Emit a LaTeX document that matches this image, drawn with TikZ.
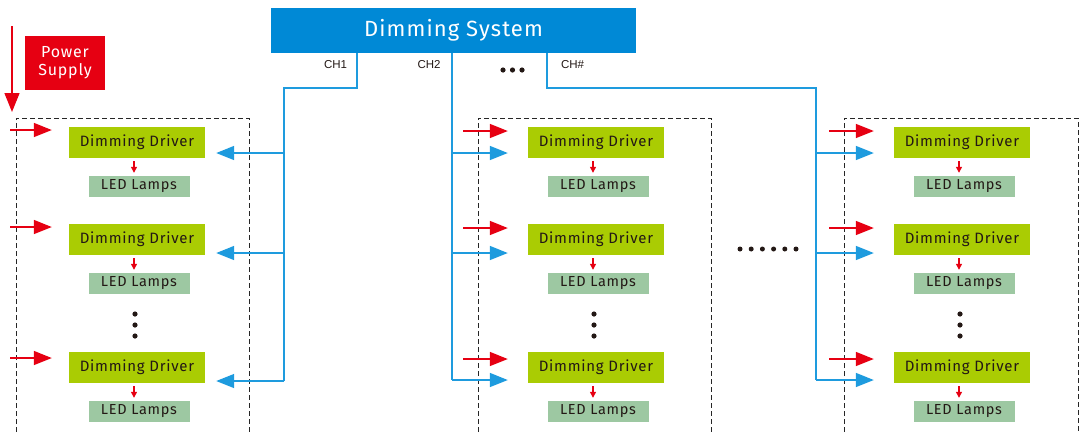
\documentclass[tikz,border=0pt]{standalone}
\usepackage{fontspec}
\setmainfont[LetterSpace=5]{Fira Sans}
\newfontfamily\chfont{Liberation Sans}
\usetikzlibrary{arrows.meta}
\definecolor{sysblue}{HTML}{0089D6}
\definecolor{lineblue}{HTML}{1E9BDE}
\definecolor{pwred}{HTML}{E60012}
\definecolor{drvgreen}{HTML}{AACC03}
\definecolor{ledgreen}{HTML}{9DC8A2}
\definecolor{txt}{HTML}{231815}
\tikzset{
  drvbox/.style={fill=drvgreen, minimum width=136pt, minimum height=31pt, inner sep=0pt, text=txt, font=\fontsize{15}{17}\selectfont},
  ledbox/.style={fill=ledgreen, minimum width=101pt, minimum height=21pt, inner sep=0pt, text=txt, font=\fontsize{14.5}{16}\selectfont},
  grpbox/.style={draw=black!85, line width=0.9pt, dash pattern=on 5pt off 3pt},
  redarr/.style={draw=pwred, line width=1.4pt, -{Triangle[length=18pt,width=14pt]}},
  bluearr/.style={draw=lineblue, line width=1.4pt, -{Triangle[length=18pt,width=14pt]}},
  bus/.style={draw=lineblue, line width=1.4pt},
  smallarr/.style={draw=pwred, line width=1.2pt, -{Triangle[length=6pt,width=6pt]}, shorten <=3pt, shorten >=3pt},
  chlabel/.style={font=\chfont\fontsize{11.5}{13}\selectfont, text=txt, inner sep=0pt},
  dot/.style={fill=txt, draw=none}
}
\begin{document}
\begin{tikzpicture}[x=1pt,y=-1pt]
\useasboundingbox (0,0) rectangle (1082,432);

% Dimming system
\node[fill=sysblue, minimum width=365pt, minimum height=45pt, inner sep=0pt, text=white, font=\fontsize{22}{25}\selectfont] (sys) at (453.5,30.5) {Dimming System};

% Power supply
\node[fill=pwred, minimum width=80pt, minimum height=54pt, inner sep=0pt, text=white, align=center, font=\fontsize{16}{18}\selectfont] (ps) at (65,63) {Power\\Supply};
\coordinate (pstop) at (12,26);
\coordinate (psbot) at (12,112);
\draw[draw=pwred, line width=1.4pt, -{Triangle[length=19pt,width=15pt]}] (pstop) -- (psbot);

% group boxes
\draw[grpbox] (16,432) -- (16,118) -- (249,118) -- (249,432);
\draw[grpbox] (478,432) -- (478,118) -- (711,118) -- (711,432);
\draw[grpbox] (844,432) -- (844,118) -- (1078,118) -- (1078,432);

% drivers and lamps
\foreach \g/\x in {1/137,2/596,3/962}{
  \foreach \r/\dy/\ly in {1/142.5/186.5,2/239.5/283.5,3/367.5/411.5}{
    \node[drvbox] (d\g\r) at (\x,\dy) {Dimming Driver};
    \node[ledbox] (l\g\r) at (\x+2,\ly) {LED Lamps};
    \draw[smallarr] (d\g\r.south -| \x-3,0) -- (l\g\r.north -| \x-3,0);
  }
  \foreach \yy in {314,325,336}{
    \fill[dot] (\x-2,\yy) circle (2.6pt);
  }
}

% red input arrows
\foreach \r/\yy in {1/130,2/227,3/358}{
  \coordinate (r1\r) at (10,\yy);
  \draw[redarr, shorten >=17pt] (r1\r) -- (d1\r.west |- r1\r);
  \coordinate (r2\r) at (463,\yy+1);
  \draw[redarr, shorten >=20pt] (r2\r) -- (d2\r.west |- r2\r);
  \coordinate (r3\r) at (829,\yy+1);
  \draw[redarr, shorten >=20pt] (r3\r) -- (d3\r.west |- r3\r);
}

% buses
\coordinate (c1a) at (357,88);
\coordinate (c1b) at (284,88);
\coordinate (c1c) at (284,381);
\draw[bus] (sys.south -| c1a) -- (c1a) -- (c1b) -- (c1c);
\coordinate (c2c) at (452,380);
\draw[bus] (sys.south -| c2c) -- (c2c);
\coordinate (c3a) at (547,88);
\coordinate (c3b) at (816,88);
\coordinate (c3c) at (816,380);
\draw[bus] (sys.south -| c3a) -- (c3a) -- (c3b) -- (c3c);

% blue arrows
\foreach \r/\yy in {1/153,2/253,3/381}{
  \coordinate (j1\r) at (284,\yy);
  \draw[bluearr, shorten >=11pt] (j1\r) -- (d1\r.east |- j1\r);
}
\foreach \r/\yy in {1/153,2/253,3/380}{
  \coordinate (j2\r) at (452,\yy);
  \draw[bluearr, shorten >=20pt] (j2\r) -- (d2\r.west |- j2\r);
  \coordinate (j3\r) at (816,\yy);
  \draw[bluearr, shorten >=20pt] (j3\r) -- (d3\r.west |- j3\r);
}
\draw[bus] (j23) -- (c2c);
\draw[bus] (j33) -- (c3c);

% channel labels
\node[chlabel] (ch1) at (335.5,65) {CH1};
\node[chlabel] (ch2) at (429,65) {CH2};
\node[chlabel] (chn) at (572.5,65) {CH\#};
\foreach \xx in {503,512.5,522}{\fill[dot] (\xx,70) circle (2.6pt);}

% horizontal dots between groups
\foreach \xx in {740,751.2,762.4,773.6,784.8,796}{\fill[dot] (\xx,249) circle (2.5pt);}
\end{tikzpicture}
\end{document}
